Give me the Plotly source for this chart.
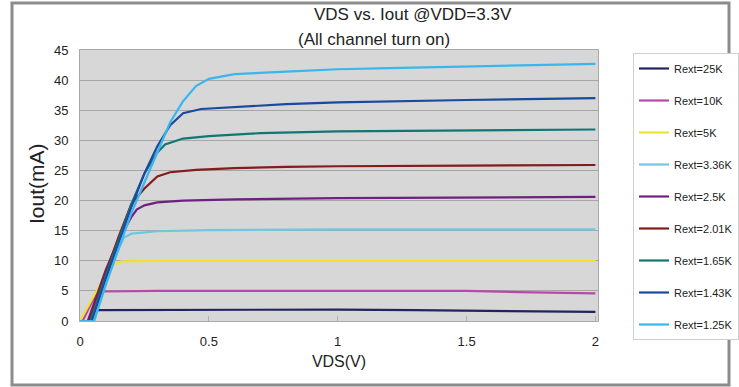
import plotly.graph_objects as go

# Rext 名称 / 颜色
names = ["Rext=25K", "Rext=10K", "Rext=5K", "Rext=3.36K", "Rext=2.5K",
         "Rext=2.01K", "Rext=1.65K", "Rext=1.43K", "Rext=1.25K"]
colors = ["#23235e", "#b64aa6", "#eee234", "#72c6de", "#6e2180",
          "#861b1b", "#137676", "#1a49a0", "#3ab6ee"]

# VDS(V) / Iout(mA) 读数
vds_25k = [0.0, 0.04, 0.06, 0.5, 1.0, 1.3, 1.6, 2.0]
iout_25k = [0.0, 0.0, 1.8, 1.9, 1.9, 1.8, 1.7, 1.5]

vds_10k = [0.0, 0.01, 0.06, 0.09, 0.3, 1.0, 1.5, 1.7, 2.0]
iout_10k = [0.0, 0.0, 4.3, 4.9, 5.0, 5.0, 5.0, 4.8, 4.6]

vds_5k = [0.0, 0.05, 0.1, 0.13, 0.16, 0.3, 0.6, 1.0, 1.5, 2.0]
iout_5k = [0.0, 4.0, 7.8, 9.4, 9.9, 10.0, 10.0, 10.1, 10.1, 10.0]

vds_336k = [0.0, 0.05, 0.1, 0.15, 0.17, 0.2, 0.3, 0.5, 1.0, 1.5, 2.0]
iout_336k = [0.0, 0.0, 6.5, 12.0, 13.8, 14.5, 14.9, 15.1, 15.2, 15.2, 15.2]

vds_25 = [0.0, 0.03, 0.1, 0.15, 0.2, 0.22, 0.25, 0.3, 0.4, 0.6, 1.0, 1.5, 2.0]
iout_25 = [0.0, 0.0, 8.5, 13.5, 17.3, 18.5, 19.2, 19.7, 20.0, 20.2, 20.4, 20.5, 20.6]

vds_201 = [0.0, 0.035, 0.1, 0.15, 0.2, 0.25, 0.3, 0.35, 0.45, 0.6, 0.8, 1.0, 1.5, 2.0]
iout_201 = [0.0, 0.0, 8.0, 14.0, 19.5, 22.0, 24.0, 24.7, 25.1, 25.4, 25.6, 25.7, 25.8, 25.9]

vds_165 = [0.0, 0.04, 0.1, 0.15, 0.2, 0.25, 0.3, 0.33, 0.4, 0.5, 0.7, 1.0, 1.5, 2.0]
iout_165 = [0.0, 0.0, 7.5, 13.5, 19.5, 24.5, 28.0, 29.3, 30.3, 30.7, 31.2, 31.5, 31.7, 31.8]

vds_143 = [0.0, 0.045, 0.1, 0.15, 0.2, 0.25, 0.3, 0.35, 0.4, 0.47, 0.6, 0.8, 1.0, 1.2, 1.5, 1.8, 2.0]
iout_143 = [0.0, 0.0, 7.0, 13.0, 19.0, 24.5, 29.0, 32.5, 34.5, 35.2, 35.5, 36.0, 36.3, 36.5, 36.7, 36.9, 37.0]

vds_125 = [0.0, 0.055, 0.1, 0.15, 0.2, 0.25, 0.3, 0.35, 0.4, 0.45, 0.5, 0.6, 0.8, 1.0, 1.2, 1.5, 1.8, 2.0]
iout_125 = [0.0, 0.0, 6.0, 12.0, 18.0, 23.0, 28.0, 33.0, 36.5, 39.0, 40.2, 41.0, 41.4, 41.8, 42.0, 42.3, 42.5, 42.7]

xs = [vds_25k, vds_10k, vds_5k, vds_336k, vds_25, vds_201, vds_165, vds_143, vds_125]
ys = [iout_25k, iout_10k, iout_5k, iout_336k, iout_25, iout_201, iout_165, iout_143, iout_125]

FONT = "Liberation Sans, Arial, sans-serif"

# 绘图区像素位置
L, R, T, B = 80, 598, 50, 321
W, H = 739, 387
pw, ph = R - L, B - T

def px(x):
    return (x - L) / pw

def py(y):
    return (B - y) / ph

fig = go.Figure()
for i, (n, c, x, y) in enumerate(zip(names, colors, xs, ys)):
    fig.add_trace(go.Scatter(x=x, y=y, mode="lines", name=n, legendgroup=str(i),
                             line=dict(color=c, width=2.2), cliponaxis=False))

fig.update_xaxes(range=[0, 2.01], tickvals=[0, 0.5, 1, 1.5, 2],
                 ticktext=["0", "0.5", "1", "1.5", "2"],
                 showgrid=False, zeroline=False, showline=True, linecolor="#a8a8a8",
                 mirror=True, ticks="inside", ticklen=5, tickcolor="#b0b0b0",
                 tickfont=dict(family=FONT, size=13, color="#222"), ticklabelstandoff=8,
                 title=dict(text="VDS(V)", font=dict(family=FONT, size=16, color="#222"),
                            standoff=8))
fig.update_yaxes(range=[0, 45], dtick=5, showgrid=True, gridcolor="#a6a6a6", gridwidth=1,
                 zeroline=False, showline=True, linecolor="#a8a8a8", mirror=True,
                 tickfont=dict(family=FONT, size=13, color="#222"), ticklabelstandoff=8)

def label(text, x, y, size, angle=0):
    return dict(text=text, x=px(x), y=py(y), xref="paper", yref="paper",
                xanchor="center", yanchor="middle", textangle=angle, showarrow=False,
                font=dict(family=FONT, size=size, color="#222"))

fig.update_layout(
    width=W, height=H,
    margin=dict(l=L, r=W - R, t=T, b=H - B, autoexpand=False),
    paper_bgcolor="white", plot_bgcolor="#d7d7d7",
    showlegend=True,
    legend=dict(x=px(633), y=py(53), xanchor="left", yanchor="top", maxheight=400,
                bgcolor="white", bordercolor="#cfcfcf", borderwidth=1,
                tracegroupgap=13, font=dict(family=FONT, size=11, color="#222")),
    annotations=[
        label("VDS vs. Iout @VDD=3.3V", 413, 15, 17),
        label("(All channel turn on)", 374, 39, 17),
        label("Iout(mA)", 36, 184, 21, -90),
    ],
    shapes=[dict(type="rect", xref="paper", yref="paper",
                 x0=px(12), x1=px(729), y0=py(385), y1=py(3),
                 line=dict(color="#8c8c8c", width=3))],
)

# 去掉页面默认边距
fig.write_html("out.html", config={"displayModeBar": False},
               post_script="document.body.style.margin='0';")
